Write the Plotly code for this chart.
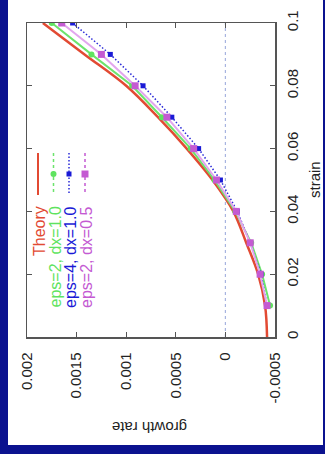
import plotly.graph_objects as go

# ---- data ----
strain = [0.0, 0.01, 0.02, 0.03, 0.04, 0.05, 0.06, 0.07, 0.08, 0.09, 0.10]
theory = [-0.00042, -0.00040, -0.00033, -0.00021, -0.00008, 0.00013, 0.00039, 0.00068, 0.00100, 0.00142, 0.00184]

sim_strain = [0.01, 0.02, 0.03, 0.04, 0.05, 0.06, 0.07, 0.08, 0.09, 0.10]
eps2_dx10 = [-0.00045, -0.00037, -0.00026, -0.00010, 0.00011, 0.00035, 0.00064, 0.00094, 0.00135, 0.00175]
eps4_dx10 = [-0.00042, -0.00036, -0.00025, -0.00012, 0.00005, 0.00027, 0.00054, 0.00083, 0.00116, 0.00154]
eps2_dx05 = [-0.00042, -0.00035, -0.00025, -0.00011, 0.00009, 0.00032, 0.00059, 0.00091, 0.00125, 0.00165]

gr_ticks = [-0.0005, 0, 0.0005, 0.001, 0.0015, 0.002]
gr_ticktext = ["-0.0005", "0", "0.0005", "0.001", "0.0015", "0.002"]
strain_ticks = [0, 0.02, 0.04, 0.06, 0.08, 0.1]
strain_ticktext = ["0", "0.02", "0.04", "0.06", "0.08", "0.1"]

labels = ["Theory", "eps=2, dx=1.0", "eps=4, dx=1.0", "eps=2, dx=0.5"]
colors = ["#e24a33", "#5fe35f", "#1a1ad6", "#c45ad2"]
line_colors = ["#e24a33", "#6ce46c", "#2a2ad8", "#e2a6ee"]

FONT = "Liberation Sans, Arial, Helvetica, sans-serif"

fig = go.Figure()

# chart is shown rotated: growth rate runs along x (reversed), strain along y
fig.add_trace(go.Scatter(x=theory, y=strain, mode="lines", line=dict(color=line_colors[0], width=2.5, shape="spline"),
                         name=labels[0], showlegend=False, hoverinfo="skip"))
fig.add_trace(go.Scatter(x=eps2_dx10, y=sim_strain, mode="lines+markers",
                         line=dict(color=line_colors[1], width=2),
                         marker=dict(symbol="circle", size=6, color=colors[1]),
                         name=labels[1], showlegend=False, hoverinfo="skip"))
fig.add_trace(go.Scatter(x=eps4_dx10, y=sim_strain, mode="lines+markers",
                         line=dict(color=line_colors[2], width=1.5, dash="1.5px,2px"),
                         marker=dict(symbol="square", size=5, color=colors[2]),
                         name=labels[2], showlegend=False, hoverinfo="skip"))
fig.add_trace(go.Scatter(x=eps2_dx05, y=sim_strain, mode="lines+markers",
                         line=dict(color=line_colors[3], width=2),
                         marker=dict(symbol="square", size=7, color=colors[3]),
                         name=labels[3], showlegend=False, hoverinfo="skip"))

W, H = 325, 454
L, R, T, B = 27, 50, 23, 117
pw, ph = W - L - R, H - T - B

def px(xp):
    return (xp - L) / pw

def py(yp):
    return (H - B - yp) / ph

shapes = []
# white page over the blue backdrop
shapes.append(dict(type="rect", xref="paper", yref="paper", x0=px(8), x1=px(323), y0=py(445), y1=py(-5),
                   fillcolor="white", line=dict(width=0), layer="below"))
# zero line (dotted)
shapes.append(dict(type="line", xref="x", yref="paper", x0=0, x1=0, y0=0, y1=1,
                   line=dict(color="#a8b4e0", width=1.2, dash="dot"), layer="below"))

annotations = []
leg_x = [39, 54.5, 70, 86]
for i, lab in enumerate(labels):
    annotations.append(dict(text=lab, xref="paper", yref="paper", x=px(leg_x[i]), y=py(204),
                            xanchor="center", yanchor="top", textangle=-90, showarrow=False,
                            font=dict(family=FONT, size=16, color=colors[i])))
    dash = ["solid", "dot", "1.5px,2px", "dot"][i]
    shapes.append(dict(type="line", xref="paper", yref="paper", x0=px(leg_x[i] - 1), x1=px(leg_x[i] - 1),
                       y0=py(153), y1=py(195), line=dict(color=line_colors[i] if i != 3 else colors[3],
                                                          width=2 if i == 0 else 1.5, dash=dash)))
    if i > 0:
        cx, cy = leg_x[i] - 1, 174
        r = [0, 3, 2.5, 3.5][i]
        shapes.append(dict(type="circle" if i == 1 else "rect", xref="paper", yref="paper",
                           x0=px(cx - r), x1=px(cx + r), y0=py(cy + r), y1=py(cy - r),
                           fillcolor=colors[i], line=dict(width=0)))

annotations.append(dict(text="strain", xref="paper", yref="paper", x=px(314), y=0.5, textangle=-90,
                        xanchor="center", yanchor="middle", showarrow=False,
                        font=dict(family=FONT, size=15, color="#222")))
annotations.append(dict(text="growth rate", xref="paper", yref="paper", x=px(150), y=py(428), textangle=180,
                        xanchor="center", yanchor="middle", showarrow=False,
                        font=dict(family=FONT, size=15, color="#222")))

axis_common = dict(showgrid=False, zeroline=False, showline=True, linecolor="#555", linewidth=1.5,
                   mirror="ticks", ticks="inside", ticklen=5, tickcolor="#555", tickwidth=1,
                   tickangle=-90, tickfont=dict(family=FONT, size=15, color="#222"), automargin=False)

fig.update_layout(
    width=W, height=H,
    margin=dict(l=L, r=R, t=T, b=B, pad=0),
    paper_bgcolor="#0b128f", plot_bgcolor="white",
    xaxis=dict(range=[0.002, -0.0005], tickvals=gr_ticks, ticktext=gr_ticktext, ticklabelstandoff=8, **axis_common),
    yaxis=dict(range=[0, 0.1], tickvals=strain_ticks, ticktext=strain_ticktext, side="right",
               ticklabelstandoff=3, **axis_common),
    shapes=shapes, annotations=annotations, showlegend=False,
)

fig.write_html("out.html", config={"displayModeBar": False, "staticPlot": True},
               post_script="document.body.style.margin='0';document.body.style.overflow='hidden';")
